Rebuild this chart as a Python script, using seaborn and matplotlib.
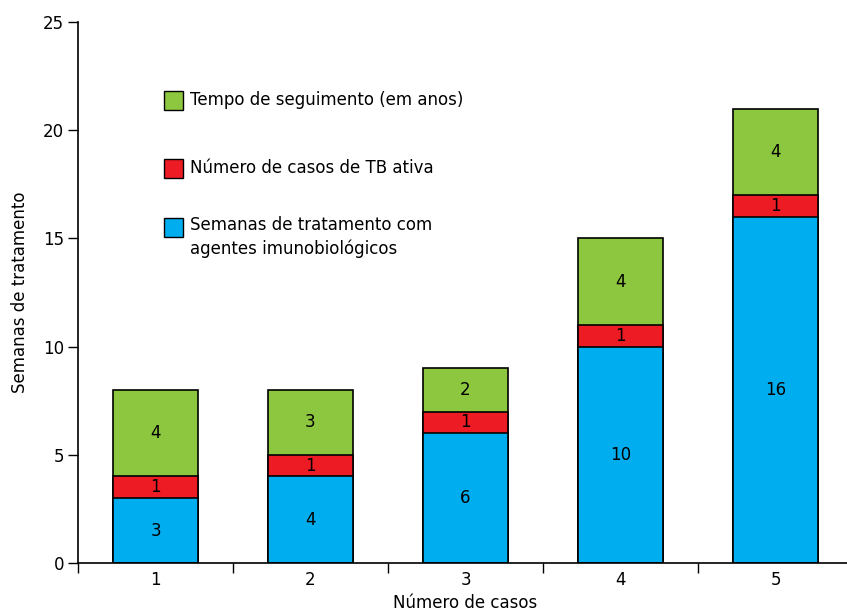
import matplotlib
matplotlib.use("Agg")
import matplotlib.pyplot as plt
from matplotlib.patches import Rectangle
import numpy as np
import pandas as pd
import seaborn as sns

# Data
casos = ["1", "2", "3", "4", "5"]
semanas_tratamento = [3, 4, 6, 10, 16]
casos_tb_ativa = [1, 1, 1, 1, 1]
tempo_seguimento = [4, 3, 2, 4, 4]

labels_series = [
    "Tempo de seguimento (em anos)",
    "Número de casos de TB ativa",
    "Semanas de tratamento com\nagentes imunobiológicos",
]
cores = ["#8DC63F", "#ED1C24", "#00AEEF"]

sns.set_style("white")
plt.rcParams["font.family"] = ["DejaVu Sans"]
plt.rcParams["text.color"] = "black"
plt.rcParams["axes.labelcolor"] = "black"
plt.rcParams["xtick.color"] = "black"
plt.rcParams["ytick.color"] = "black"

W, H = 847, 613
fig = plt.figure(figsize=(W / 100, H / 100), dpi=100)
ax_left, ax_right, ax_top, ax_bottom = 78, 853, 22, 563
ax = fig.add_axes([ax_left / W, (H - ax_bottom) / H,
                   (ax_right - ax_left) / W, (ax_bottom - ax_top) / H])

b = np.array(semanas_tratamento, dtype=float)
r = np.array(casos_tb_ativa, dtype=float)
g = np.array(tempo_seguimento, dtype=float)

df = pd.DataFrame({
    "caso": casos,
    "azul": b,
    "vermelho": b + r,
    "verde": b + r + g,
})

# Stacked bars drawn as cumulative totals, tallest first
for col, cor in zip(["verde", "vermelho", "azul"], cores):
    sns.barplot(data=df, x="caso", y=col, color=cor, width=0.55,
                edgecolor="black", linewidth=1.2, saturation=1, ax=ax)

# Segment value labels
for i in range(len(casos)):
    segs = [(0, b[i]), (b[i], r[i]), (b[i] + r[i], g[i])]
    for base, val in segs:
        ax.text(i, base + val / 2, f"{int(val)}", ha="center", va="center",
                fontsize=12, color="black")

ax.set_xlim(-0.5, 4.5)
ax.set_ylim(0, 25)
ax.set_yticks([0, 5, 10, 15, 20, 25])
ax.tick_params(axis="y", direction="out", length=7, width=1, labelsize=12,
               left=True, pad=3)
ax.set_xticks(range(len(casos)))
ax.set_xticklabels(casos)
ax.set_xticks(np.arange(-0.5, 5.0, 1.0), minor=True)
ax.tick_params(axis="x", which="major", length=0, labelsize=12, pad=6)
ax.tick_params(axis="x", which="minor", direction="out", length=7, width=1,
               bottom=True)

for s in ["top", "right"]:
    ax.spines[s].set_visible(False)
for s in ["left", "bottom"]:
    ax.spines[s].set_color("black")
    ax.spines[s].set_linewidth(1.2)

ax.set_xlabel("Número de casos", fontsize=12, labelpad=3)
ax.set_ylabel("Semanas de tratamento", fontsize=12, labelpad=10)


# Legend drawn in axes fraction coordinates
def fx(px):
    return (px - ax_left) / (ax_right - ax_left)


def fy(py):
    return (ax_bottom - py) / (ax_bottom - ax_top)


legend_rows = [(100, labels_series[0], cores[0]),
               (168, labels_series[1], cores[1]),
               (227, labels_series[2], cores[2])]
sq = 19
for cy, txt, cor in legend_rows:
    ax.add_patch(Rectangle((fx(164), fy(cy + sq / 2)),
                           sq / (ax_right - ax_left), sq / (ax_bottom - ax_top),
                           transform=ax.transAxes, facecolor=cor,
                           edgecolor="black", linewidth=1.0, clip_on=False))
    if "\n" in txt:
        ax.text(fx(190), fy(cy - 11), txt, transform=ax.transAxes, ha="left",
                va="top", fontsize=12, linespacing=1.4, color="black")
    else:
        ax.text(fx(190), fy(cy), txt, transform=ax.transAxes, ha="left",
                va="center", fontsize=12, color="black")

fig.savefig("out.png", dpi=100)
